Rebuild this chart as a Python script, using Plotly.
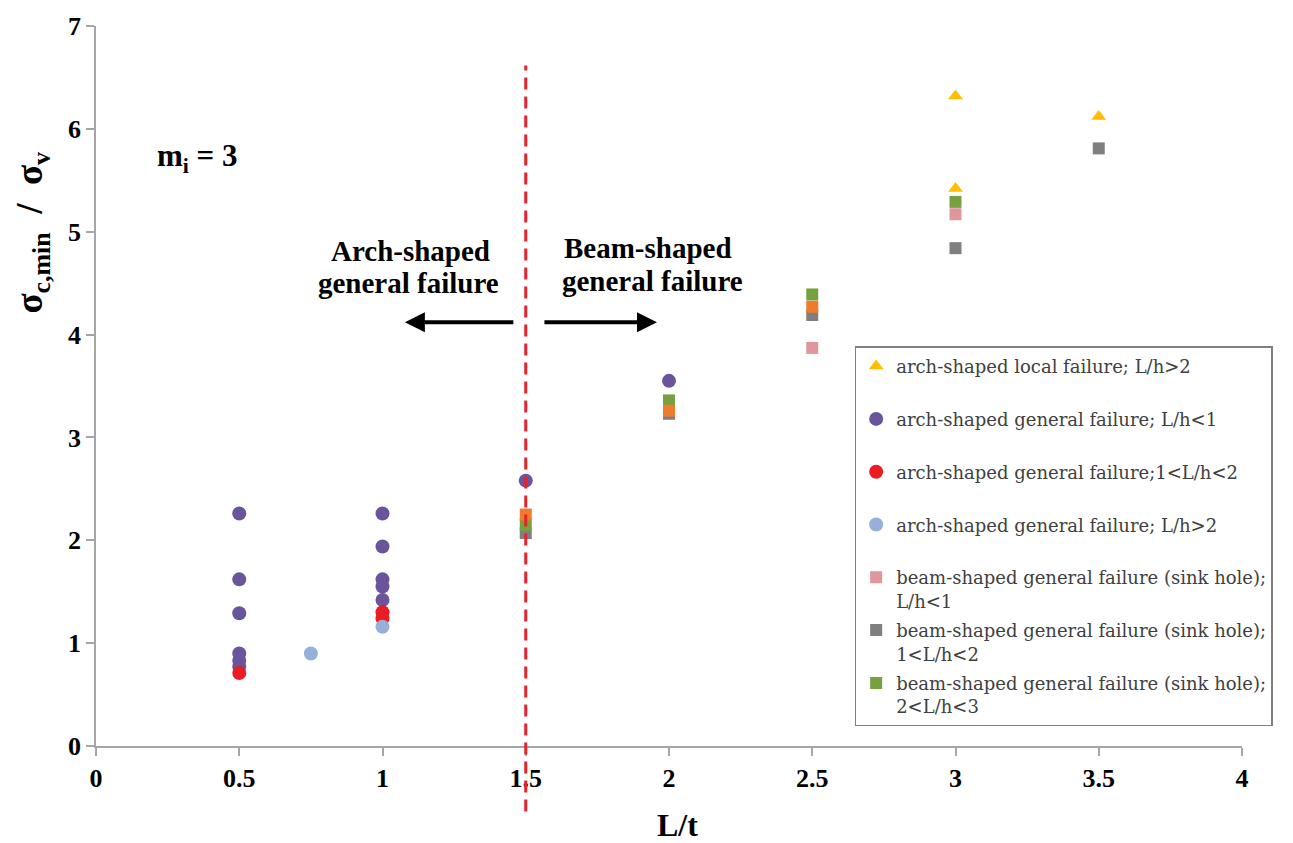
import plotly.graph_objects as go

# Series: (L/t, sigma_c,min / sigma_v)
arch_local_gt2_x = [3, 3, 3.5]
arch_local_gt2_y = [6.32, 5.42, 6.12]

arch_gen_lt1_x = [0.5, 0.5, 0.5, 0.5, 0.5, 0.5, 1, 1, 1, 1, 1, 1.5, 2]
arch_gen_lt1_y = [2.26, 1.62, 1.29, 0.90, 0.83, 0.77, 2.26, 1.94, 1.62, 1.55, 1.42, 2.58, 3.55]

arch_gen_1_2_x = [0.5, 1, 1]
arch_gen_1_2_y = [0.71, 1.30, 1.24]

arch_gen_gt2_x = [0.75, 1]
arch_gen_gt2_y = [0.90, 1.16]

beam_lt1_x = [2.5, 3]
beam_lt1_y = [3.87, 5.17]

beam_1_2_x = [1.5, 2, 2.5, 3, 3.5]
beam_1_2_y = [2.07, 3.23, 4.19, 4.84, 5.81]

beam_2_3_x = [1.5, 2, 2.5, 3]
beam_2_3_y = [2.15, 3.36, 4.39, 5.29]

beam_extra_x = [1.5, 2, 2.5]
beam_extra_y = [2.25, 3.26, 4.27]

x_ticks = [0, 0.5, 1, 1.5, 2, 2.5, 3, 3.5, 4]
y_ticks = [0, 1, 2, 3, 4, 5, 6, 7]

SERIF = "Liberation Serif"
AXIS_GREY = "#a6a6a6"

fig = go.Figure()

def add(xs, ys, name, color, symbol, size, rank, show=True):
    fig.add_trace(go.Scatter(
        x=xs, y=ys, mode="markers", name=name,
        legendgroup=name, legendrank=rank, showlegend=show,
        marker=dict(color=color, symbol=symbol, size=size, line=dict(width=0)),
    ))

# drawing order (later traces on top)
add(arch_gen_lt1_x, arch_gen_lt1_y, "arch-shaped general failure; L/h<1<br> ", "#6a559c", "circle", 14, 2)
add(arch_gen_1_2_x, arch_gen_1_2_y, "arch-shaped general failure;1<L/h<2<br> ", "#ec1c24", "circle", 14, 3)
add(arch_gen_gt2_x, arch_gen_gt2_y, "arch-shaped general failure; L/h>2<br> ", "#95b1d8", "circle", 14, 4)
add(beam_lt1_x, beam_lt1_y, "beam-shaped general failure (sink hole);<br>L/h<1", "#e0969a", "square", 12, 5)
add(beam_1_2_x, beam_1_2_y, "beam-shaped general failure (sink hole);<br>1<L/h<2", "#7f7f7f", "square", 12, 6)
add(beam_2_3_x, beam_2_3_y, "beam-shaped general failure (sink hole);<br>2<L/h<3", "#77a040", "square", 12, 7)
add(beam_extra_x, beam_extra_y, "beam-shaped", "#ef7b2c", "square", 12, 8, show=False)
add(arch_local_gt2_x, arch_local_gt2_y, "arch-shaped local failure; L/h>2<br> ", "#ffbf00", "triangle-up", 13, 1)

# boundary between arch- and beam-shaped failure
fig.add_shape(type="line", xref="x", yref="paper", x0=1.5, x1=1.5, y0=-0.091, y1=0.945,
              line=dict(color="#e4232b", width=3, dash="12px,7px"), layer="above")

label_font = dict(family=SERIF, size=29, color="black", weight="bold")

def label(x, y, text):
    fig.add_annotation(x=x, y=y, xref="x", yref="y", showarrow=False, text=text, font=label_font)

label(1.099, 4.81, "Arch-shaped")
label(1.089, 4.50, "general failure")
label(1.927, 4.84, "Beam-shaped")
label(1.944, 4.52, "general failure")

fig.add_annotation(x=1.078, y=4.12, ax=1.462, ay=4.12, xref="x", yref="y", axref="x", ayref="y",
                   showarrow=True, arrowhead=2, arrowsize=1, arrowwidth=4, arrowcolor="black", text="")
fig.add_annotation(x=1.958, y=4.12, ax=1.560, ay=4.12, xref="x", yref="y", axref="x", ayref="y",
                   showarrow=True, arrowhead=2, arrowsize=1, arrowwidth=4, arrowcolor="black", text="")
fig.add_annotation(x=0.356, y=5.72, xref="x", yref="y", showarrow=False,
                   text="m<sub>i</sub> = 3", font=dict(family=SERIF, size=31, color="black", weight="bold"))

# axis titles
fig.add_annotation(x=-0.055, y=0.713, xref="paper", yref="paper", xanchor="center", yanchor="middle",
                   showarrow=False, textangle=-90,
                   text="σ<sub>c,min</sub>  /  σ<sub>v</sub>",
                   font=dict(family=SERIF, size=37, color="black", weight="bold"))
fig.add_annotation(x=2.03, y=-0.11, xref="x", yref="paper", xanchor="center", yanchor="middle",
                   showarrow=False,
                   text="L/t", font=dict(family=SERIF, size=32, color="black", weight="bold"))

axis_common = dict(showgrid=False, zeroline=False, showline=True, linecolor=AXIS_GREY, linewidth=1.5,
                   ticks="outside", ticklen=8, tickcolor=AXIS_GREY, tickwidth=1.5,
                   tickfont=dict(family=SERIF, size=26, color="black", weight="bold"))

fig.update_xaxes(range=[0, 4], tickvals=x_ticks, ticktext=[f"{v:g}" for v in x_ticks], **axis_common)
fig.update_yaxes(range=[0, 7], tickvals=y_ticks, ticktext=[str(v) for v in y_ticks], **axis_common)

fig.update_layout(
    width=1293, height=843,
    margin=dict(l=96, r=51, t=22, b=97),
    paper_bgcolor="white", plot_bgcolor="white",
    showlegend=True,
    legend=dict(x=0.662, y=0.555, xanchor="left", yanchor="top",
                bordercolor="#7f7f7f", borderwidth=1.5, bgcolor="white",
                font=dict(family="DejaVu Serif", size=18, color="#404040"),
                valign="top", traceorder="grouped", tracegroupgap=3,
                itemwidth=30),
)

fig.write_html("out.html")
